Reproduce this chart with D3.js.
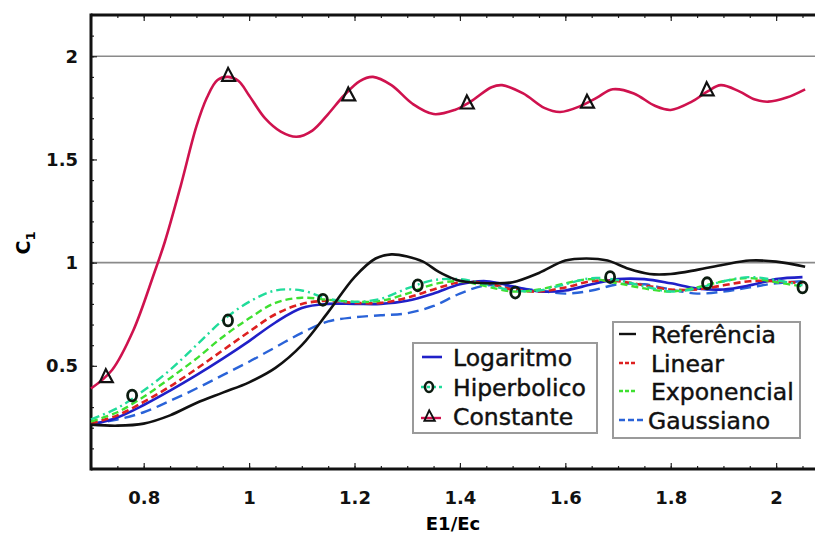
<!DOCTYPE html>
<html>
<head>
<meta charset="utf-8">
<script src="https://cdn.jsdelivr.net/npm/d3@7"></script>
<style>
  body { margin: 0; background: #fff; }
  svg { display: block; }
  .tick text { font-family: "DejaVu Sans", sans-serif; font-weight: bold; font-size: 18px; fill: #111; }
  .legend text { font-family: "DejaVu Sans", sans-serif; font-size: 23.5px; fill: #111; stroke: #111; stroke-width: 0.45px; }
</style>
</head>
<body>
<svg id="chart" width="815" height="537"></svg>
<script>
// shared x grid for the five model curves
const gridX = [0.70, 0.75, 0.80, 0.85, 0.90, 0.95, 1.00, 1.05, 1.10, 1.15, 1.20, 1.25, 1.30, 1.35,
  1.40, 1.45, 1.50, 1.55, 1.60, 1.65, 1.70, 1.75, 1.80, 1.85, 1.90, 1.95, 2.00, 2.05]

const logaritmo = [0.215, 0.25, 0.31, 0.38, 0.455, 0.535, 0.62, 0.71, 0.78, 0.80, 0.80, 0.80, 0.815, 0.85,
  0.895, 0.91, 0.885, 0.86, 0.865, 0.895, 0.92, 0.92, 0.90, 0.875, 0.87, 0.89, 0.92, 0.93]
const linear = [0.22, 0.26, 0.325, 0.40, 0.485, 0.575, 0.665, 0.75, 0.80, 0.815, 0.805, 0.805, 0.83, 0.87,
  0.905, 0.90, 0.87, 0.86, 0.88, 0.91, 0.91, 0.89, 0.87, 0.87, 0.89, 0.91, 0.91, 0.90]
const exponencial = [0.23, 0.275, 0.35, 0.44, 0.535, 0.64, 0.73, 0.805, 0.83, 0.82, 0.81, 0.815, 0.85, 0.895,
  0.91, 0.885, 0.86, 0.87, 0.90, 0.92, 0.90, 0.875, 0.86, 0.88, 0.91, 0.925, 0.905, 0.885]
const hiperbolico = [0.24, 0.295, 0.38, 0.48, 0.60, 0.72, 0.81, 0.865, 0.865, 0.825, 0.81, 0.825, 0.875, 0.915,
  0.92, 0.895, 0.865, 0.865, 0.895, 0.925, 0.915, 0.885, 0.86, 0.875, 0.91, 0.93, 0.915, 0.89]
const gaussiano = [0.22, 0.24, 0.275, 0.33, 0.39, 0.455, 0.52, 0.59, 0.66, 0.715, 0.735, 0.745, 0.755, 0.79,
  0.85, 0.89, 0.88, 0.865, 0.85, 0.865, 0.895, 0.895, 0.87, 0.85, 0.86, 0.88, 0.90, 0.91]

// reference curve
const refX = [0.70, 0.75, 0.80, 0.85, 0.90, 0.95, 1.00, 1.05, 1.10, 1.15, 1.20, 1.24, 1.27, 1.30, 1.33, 1.36,
  1.39, 1.42, 1.46, 1.50, 1.55, 1.60, 1.64, 1.68, 1.72, 1.76, 1.80, 1.85, 1.90, 1.95, 2.00, 2.055]
const refY = [0.215, 0.21, 0.22, 0.26, 0.32, 0.37, 0.42, 0.49, 0.60, 0.76, 0.93, 1.02, 1.04, 1.03, 1.005, 0.955,
  0.92, 0.905, 0.90, 0.905, 0.95, 1.01, 1.02, 1.01, 0.97, 0.945, 0.945, 0.965, 0.99, 1.01, 1.005, 0.98]

// constante curve
const constX = [0.70, 0.74, 0.78, 0.82, 0.84, 0.87, 0.90, 0.92, 0.94, 0.96, 0.98, 1.00, 1.03, 1.06, 1.09, 1.12,
  1.15, 1.18, 1.21, 1.235, 1.27, 1.31, 1.35, 1.39, 1.42, 1.46, 1.48, 1.52, 1.56, 1.59, 1.63, 1.66, 1.69, 1.73,
  1.77, 1.80, 1.84, 1.87, 1.895, 1.93, 1.96, 1.985, 2.02, 2.055]
const constY = [0.39, 0.48, 0.67, 0.95, 1.10, 1.37, 1.66, 1.80, 1.885, 1.90, 1.88, 1.81, 1.70, 1.635, 1.61, 1.64,
  1.72, 1.81, 1.88, 1.90, 1.86, 1.77, 1.72, 1.74, 1.78, 1.85, 1.86, 1.82, 1.75, 1.73, 1.76, 1.80, 1.84, 1.82,
  1.76, 1.74, 1.78, 1.83, 1.86, 1.83, 1.79, 1.78, 1.80, 1.84]

// markers
const constMarkX = [0.73, 0.962, 1.19, 1.415, 1.643, 1.87]
const constMarkY = [0.45, 1.91, 1.815, 1.776, 1.78, 1.84]
const hipMarkX = [0.778, 0.96, 1.14, 1.32, 1.505, 1.685, 1.869, 2.05]
const hipMarkY = [0.356, 0.72, 0.82, 0.89, 0.855, 0.93, 0.90, 0.88]

const xMajor = [0.8, 1.0, 1.2, 1.4, 1.6, 1.8, 2.0]
const xMajorLabels = ["0.8", "1", "1.2", "1.4", "1.6", "1.8", "2"]
const yMajor = [0.5, 1.0, 1.5, 2.0]
const yMajorLabels = ["0.5", "1", "1.5", "2"]
const gridLinesY = [1, 2]

const svg = d3.select("#chart")
const padLeft = 91, padTop = 15, padBottom = 469, padRight = 818.3

const x = d3.scaleLinear().domain([0.7, 2.08]).range([padLeft, padRight])
const y = d3.scaleLinear().domain([0, 2.2]).range([padBottom, padTop])

// horizontal grey lines at 1 and 2
svg.selectAll(".hgrid").data(gridLinesY).enter().append("line")
  .attr("x1", padLeft).attr("x2", 815)
  .attr("y1", (d) => y(d)).attr("y2", (d) => y(d))
  .attr("stroke", "#8a8a8a").attr("stroke-width", 1.6)

// minor ticks
const xMinor = d3.range(14, 42).map((i) => i * 0.05).filter((v) => v <= 2.07)
const yMinor = d3.range(1, 22).map((i) => i / 10)

svg.append("g").attr("transform", `translate(0,${padBottom})`)
  .call(d3.axisBottom(x).tickValues(xMinor).tickSize(-3).tickFormat(""))
svg.append("g").attr("transform", `translate(0,${padTop})`)
  .call(d3.axisTop(x).tickValues(xMinor).tickSize(-3).tickFormat(""))
svg.append("g").attr("transform", `translate(${padLeft},0)`)
  .call(d3.axisLeft(y).tickValues(yMinor).tickSize(-3).tickFormat(""))

svg.append("g").attr("transform", `translate(0,${padBottom})`)
  .call(d3.axisBottom(x).tickValues(xMajor).tickSize(-6).tickPadding(22)
    .tickFormat((d, i) => xMajorLabels[i]))
svg.append("g").attr("transform", `translate(0,${padTop})`)
  .call(d3.axisTop(x).tickValues(xMajor).tickSize(-6).tickFormat(""))
svg.append("g").attr("transform", `translate(${padLeft},0)`)
  .call(d3.axisLeft(y).tickValues(yMajor).tickSize(-6).tickPadding(13)
    .tickFormat((d, i) => yMajorLabels[i]))

svg.selectAll(".domain").remove()
svg.selectAll(".tick line").attr("stroke", "#222").attr("stroke-width", 1.2)

// spines
svg.append("line").attr("x1", padLeft).attr("x2", 815).attr("y1", padTop).attr("y2", padTop)
  .attr("stroke", "#111").attr("stroke-width", 3)
svg.append("line").attr("x1", padLeft).attr("x2", 815).attr("y1", padBottom).attr("y2", padBottom)
  .attr("stroke", "#111").attr("stroke-width", 3)
svg.append("line").attr("x1", padLeft).attr("x2", padLeft).attr("y1", padTop - 1.5).attr("y2", padBottom + 1.5)
  .attr("stroke", "#111").attr("stroke-width", 3)

// axis titles
svg.append("text").attr("x", 453).attr("y", 530).attr("text-anchor", "middle")
  .style("font-family", "DejaVu Sans").style("font-weight", "bold").style("font-size", "18px")
  .text("E1/Ec")
const yTitle = svg.append("text").attr("transform", "translate(30,243) rotate(-90)")
  .attr("text-anchor", "middle")
  .style("font-family", "DejaVu Sans").style("font-weight", "bold").style("font-size", "19px")
yTitle.append("tspan").text("C")
yTitle.append("tspan").attr("dy", 5).style("font-size", "13px").text("1")

// curves
const line = d3.line().x((d) => x(d[0])).y((d) => y(d[1])).curve(d3.curveCatmullRom.alpha(0.5))
const zip = (xs, ys) => xs.map((v, i) => [v, ys[i]])

const series = [
  { name: "Gaussiano", values: gaussiano, color: "#2a63d8", dash: "11,6", width: 2.4 },
  { name: "Logaritmo", values: logaritmo, color: "#2020c8", dash: null, width: 2.6 },
  { name: "Linear", values: linear, color: "#dd2020", dash: "7,4", width: 2.6 },
  { name: "Exponencial", values: exponencial, color: "#3ee030", dash: "7,4", width: 2.4 },
  { name: "Hiperbolico", values: hiperbolico, color: "#20dc9a", dash: "9,4,2,4", width: 2.4 },
]

series.forEach((s) => {
  svg.append("path").datum(zip(gridX, s.values))
    .attr("d", line).attr("fill", "none")
    .attr("stroke", s.color).attr("stroke-width", s.width)
    .attr("stroke-dasharray", s.dash)
})

svg.append("path").datum(zip(refX, refY)).attr("d", line).attr("fill", "none")
  .attr("stroke", "#111").attr("stroke-width", 2.6)

svg.append("path").datum(zip(constX, constY)).attr("d", line).attr("fill", "none")
  .attr("stroke", "#cf124e").attr("stroke-width", 2.6)

// markers
const triPath = "M-7,6 L6,6 L-1,-7 Z"
svg.selectAll(".tri").data(zip(constMarkX, constMarkY)).enter().append("path")
  .attr("d", triPath).attr("transform", (d) => `translate(${x(d[0])},${y(d[1])})`)
  .attr("fill", "none").attr("stroke", "#111").attr("stroke-width", 2.2)

svg.selectAll(".hip").data(zip(hipMarkX, hipMarkY)).enter().append("ellipse")
  .attr("cx", (d) => x(d[0])).attr("cy", (d) => y(d[1]))
  .attr("rx", 4.5).attr("ry", 5.5)
  .attr("fill", "none").attr("stroke", "#0c1c10").attr("stroke-width", 2.8)

// legend 1
const leg1 = svg.append("g").attr("class", "legend")
leg1.append("rect").attr("x", 413).attr("y", 343).attr("width", 184).attr("height", 90)
  .attr("fill", "#fff").attr("stroke", "#9a9a9a").attr("stroke-width", 2)
const leg1Items = [
  { name: "Logaritmo", cy: 357 },
  { name: "Hiperbolico", cy: 387 },
  { name: "Constante", cy: 416 },
]
leg1Items.forEach((d) => {
  leg1.append("text").attr("x", 453).attr("y", d.cy + 8.5).text(d.name)
})
leg1.append("line").attr("x1", 422).attr("x2", 442).attr("y1", 357).attr("y2", 357)
  .attr("stroke", "#2020c8").attr("stroke-width", 2.6)
leg1.append("line").attr("x1", 421).attr("x2", 445).attr("y1", 387).attr("y2", 387)
  .attr("stroke", "#20dc9a").attr("stroke-width", 2.4).attr("stroke-dasharray", "3,3")
leg1.append("ellipse").attr("cx", 429).attr("cy", 387).attr("rx", 4).attr("ry", 5)
  .attr("fill", "none").attr("stroke", "#0c1c10").attr("stroke-width", 2.6)
leg1.append("line").attr("x1", 421).attr("x2", 441).attr("y1", 418).attr("y2", 418)
  .attr("stroke", "#cf124e").attr("stroke-width", 2.4)
leg1.append("path").attr("d", triPath).attr("transform", "translate(430,416) scale(0.8)")
  .attr("fill", "none").attr("stroke", "#111").attr("stroke-width", 2.4)

// legend 2
const leg2 = svg.append("g").attr("class", "legend")
leg2.append("rect").attr("x", 613).attr("y", 322).attr("width", 187).attr("height", 116)
  .attr("fill", "#fff").attr("stroke", "#9a9a9a").attr("stroke-width", 2)
const leg2Items = [
  { name: "Referência", cy: 334, color: "#111", dash: null, x1: 619, x2: 636 },
  { name: "Linear", cy: 363, color: "#dd2020", dash: "4,2", x1: 619, x2: 636 },
  { name: "Exponencial", cy: 391, color: "#3ee030", dash: "4,2", x1: 619, x2: 636 },
  { name: "Gaussiano", cy: 420, color: "#2a63d8", dash: "6,3", x1: 619, x2: 646 },
]
leg2Items.forEach((d) => {
  leg2.append("line").attr("x1", d.x1).attr("x2", d.x2).attr("y1", d.cy).attr("y2", d.cy)
    .attr("stroke", d.color).attr("stroke-width", 2.4).attr("stroke-dasharray", d.dash)
  leg2.append("text").attr("x", d.name === "Gaussiano" ? 648 : 651).attr("y", d.cy + 8.5).text(d.name)
})
</script>
</body>
</html>
